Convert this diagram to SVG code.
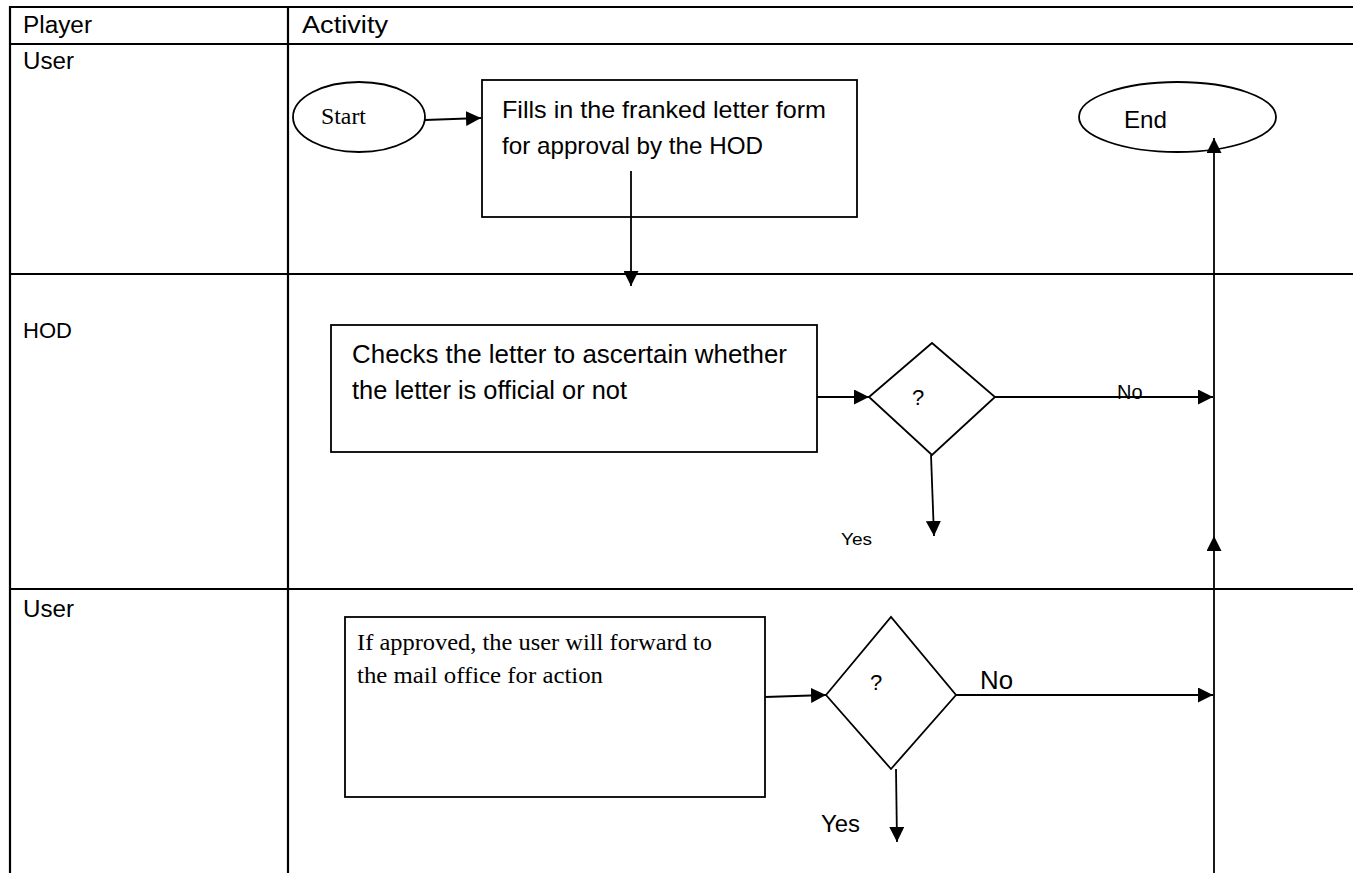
<svg xmlns="http://www.w3.org/2000/svg" width="1353" height="873" viewBox="0 0 1353 873">
<style>
.grid{stroke:#000;stroke-width:2.2;fill:none}
.shape{stroke:#000;stroke-width:1.8;fill:#fff}
.conn{stroke:#000;stroke-width:1.8;fill:none}
.sans{font-family:"Liberation Sans",Arial,sans-serif;fill:#000}
.serif{font-family:"Liberation Serif","Times New Roman",serif;fill:#000}
</style>
<defs>
<marker id="ah" viewBox="0 0 10 10" refX="10" refY="5" markerWidth="15" markerHeight="15" markerUnits="userSpaceOnUse" orient="auto"><path d="M0,0 L10,5 L0,10 z" fill="#000"/></marker>
</defs>
<rect width="1353" height="873" fill="#fff"/>
<g id="table">
<line class="grid" x1="10" y1="7" x2="1353" y2="7"/>
<line class="grid" x1="10" y1="44" x2="1353" y2="44"/>
<line class="grid" x1="10" y1="274" x2="1353" y2="274"/>
<line class="grid" x1="10" y1="589" x2="1353" y2="589"/>
<line class="grid" x1="10" y1="6" x2="10" y2="873"/>
<line class="grid" x1="288" y1="6" x2="288" y2="873"/>
<text class="sans" x="23" y="33" font-size="23" textLength="69" lengthAdjust="spacingAndGlyphs">Player</text>
<text class="sans" x="302" y="33" font-size="23" textLength="86" lengthAdjust="spacingAndGlyphs">Activity</text>
<text class="sans" x="23" y="69" font-size="23" textLength="51" lengthAdjust="spacingAndGlyphs">User</text>
<text class="sans" x="23" y="338" font-size="22">HOD</text>
<text class="sans" x="23" y="617" font-size="23" textLength="51" lengthAdjust="spacingAndGlyphs">User</text>
</g>
<g id="start">
<ellipse class="shape" cx="359" cy="117" rx="66" ry="35"/>
<text class="serif" x="321" y="124" font-size="23" textLength="45" lengthAdjust="spacingAndGlyphs">Start</text>
</g>
<g id="fill-form">
<rect class="shape" x="482" y="80" width="375" height="137"/>
<text class="sans" x="502" y="118" font-size="24" textLength="324" lengthAdjust="spacingAndGlyphs">Fills in the franked letter form</text>
<text class="sans" x="502" y="154" font-size="24" textLength="261" lengthAdjust="spacingAndGlyphs">for approval by the HOD</text>
</g>
<g id="end">
<ellipse class="shape" cx="1177.5" cy="117" rx="98.5" ry="35"/>
<text class="sans" x="1124" y="128" font-size="24" textLength="43" lengthAdjust="spacingAndGlyphs">End</text>
</g>
<g id="check-letter">
<rect class="shape" x="331" y="325" width="486" height="127"/>
<text class="sans" x="352" y="363" font-size="25" textLength="435" lengthAdjust="spacingAndGlyphs">Checks the letter to ascertain whether</text>
<text class="sans" x="352" y="399" font-size="25" textLength="275" lengthAdjust="spacingAndGlyphs">the letter is official or not</text>
</g>
<g id="decision-1">
<polygon class="shape" points="869,397 932,343 995,397 932,455"/>
<text class="sans" x="912" y="405" font-size="22">?</text>
</g>
<g id="forward">
<rect class="shape" x="345" y="617" width="420" height="180"/>
<text class="serif" x="357" y="650" font-size="24" textLength="355" lengthAdjust="spacingAndGlyphs">If approved, the user will forward to</text>
<text class="serif" x="357" y="683" font-size="24" textLength="246" lengthAdjust="spacingAndGlyphs">the mail office for action</text>
</g>
<g id="decision-2">
<polygon class="shape" points="826,695 891,617 956,695 891,769"/>
<text class="sans" x="870" y="690" font-size="22">?</text>
</g>
<g id="connectors">
<path class="conn" d="M425,120 L481,118" marker-end="url(#ah)"/>
<path class="conn" d="M631,171 L631,286" marker-end="url(#ah)"/>
<path class="conn" d="M817,397 L869,397" marker-end="url(#ah)"/>
<path class="conn" d="M995,397 L1213,397" marker-end="url(#ah)"/>
<path class="conn" d="M931,455 L934,536" marker-end="url(#ah)"/>
<path class="conn" d="M765,697 L826,695" marker-end="url(#ah)"/>
<path class="conn" d="M956,695 L1213,695" marker-end="url(#ah)"/>
<path class="conn" d="M896,769 L897,842" marker-end="url(#ah)"/>
<path class="conn" d="M1214,873 L1214,536" marker-end="url(#ah)"/>
<path class="conn" d="M1214,536 L1214,138" marker-end="url(#ah)"/>
<text class="sans" x="1117" y="399" font-size="20">No</text>
<text class="sans" x="841" y="545" font-size="17" textLength="31" lengthAdjust="spacingAndGlyphs">Yes</text>
<text class="sans" x="980" y="689" font-size="25" textLength="33" lengthAdjust="spacingAndGlyphs">No</text>
<text class="sans" x="821" y="832" font-size="23" textLength="39" lengthAdjust="spacingAndGlyphs">Yes</text>
</g>
</svg>
